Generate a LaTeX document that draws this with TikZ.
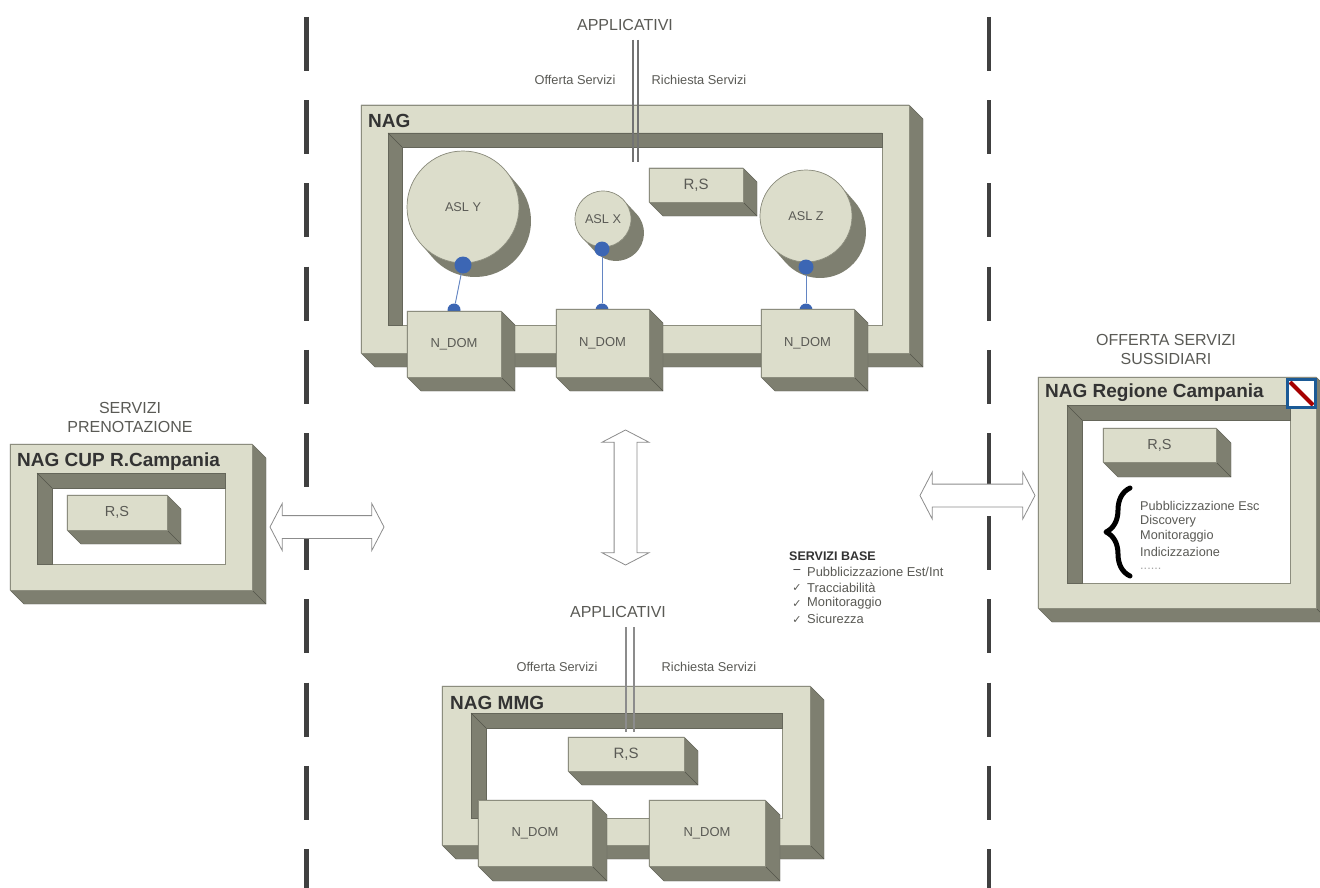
\documentclass[tikz,border=0pt]{standalone}
\usepackage{fontspec}
\setmainfont{Liberation Sans}
\newfontfamily\symfont{DejaVu Sans}
\usetikzlibrary{shapes.geometric,shapes.arrows,decorations.pathreplacing}
\definecolor{face}{HTML}{DCDDCB}
\definecolor{side}{HTML}{7E7F70}
\definecolor{edgec}{HTML}{8C8D7E}
\definecolor{txt}{HTML}{5A5A55}
\definecolor{dots}{HTML}{3C66B4}
\definecolor{flagblue}{HTML}{1B5A96}
\tikzset{
  solid3d/.style={draw=edgec,line width=.7pt,fill=face,rectangle,inner sep=0pt,outer sep=0pt,text=txt,font=\fontsize{13}{15}\selectfont},
  sidefill/.style={fill=side,draw=side!80!black,line width=.4pt},
  disc/.style={circle,draw=edgec,line width=.7pt,fill=face,inner sep=0pt,text=txt,font=\fontsize{12.7}{15}\selectfont},
  bluedot/.style={circle,fill=dots,inner sep=0pt},
  bluelink/.style={draw=dots!80!white,line width=.9pt},
  frametitle/.style={anchor=west,inner sep=0pt,text=black!80,font=\bfseries\fontsize{19}{21}\selectfont},
  captext/.style={align=center,inner sep=0pt,text=txt,font=\fontsize{16}{19}\selectfont},
  smalltext/.style={inner sep=0pt,text=txt,font=\fontsize{12.8}{14}\selectfont},
  listitem/.style={anchor=west,inner sep=0pt,text=txt,font=\fontsize{12.7}{14}\selectfont},
  basetext/.style={anchor=west,inner sep=0pt,text=txt,font=\fontsize{12.9}{14}\selectfont},
  marktext/.style={anchor=center,inner sep=0pt,text=txt,font=\symfont\fontsize{11}{12}\selectfont},
  sepbar/.style={draw=black!75,line width=4.5pt,dash pattern=on 54pt off 29.2pt},
  busline/.style={draw=black!55,line width=1.3pt},
  bigarrow/.style={double arrow,draw=black!45,fill=white,line width=.8pt,inner sep=11pt,minimum width=46pt,double arrow head extend=12pt,double arrow tip angle=125},
}
% name, x1, y1, x2, y2, depth, text
\newcommand{\solidbox}[7]{%
  \filldraw[sidefill] (#2,#3) -- (#4,#3) -- ({#4+#6},{#3+#6}) -- ({#4+#6},{#5+#6}) -- ({#2+#6},{#5+#6}) -- (#2,#5) -- cycle;
  \draw[edgec!60!black,line width=.4pt] (#4,#5) -- ({#4+#6},{#5+#6});
  \node[solid3d,minimum width={#4-#2},minimum height={#5-#3}] (#1) at ({(#2+#4)/2},{(#3+#5)/2}) {#7};
}
% name, x1, y1, x2, y2, depth
\newcommand{\holebox}[6]{%
  \node[rectangle,fill=white,draw=edgec,line width=.7pt,inner sep=0pt,minimum width={#4-#2},minimum height={#5-#3}] (#1) at ({(#2+#4)/2},{(#3+#5)/2}) {};
  \filldraw[sidefill] (#2,#3) -- (#4,#3) -- (#4,{#3+#6}) -- ({#2+#6},{#3+#6}) -- ({#2+#6},#5) -- (#2,#5) -- cycle;
  \draw[edgec!60!black,line width=.4pt] (#2,#3) -- ({#2+#6},{#3+#6});
}
% name, cx, cy, r, dx, dy, text
\newcommand{\bubble}[7]{%
  \draw[side,line width={2*#4},line cap=round] (#2,#3) -- ({#2+#5},{#3+#6});
  \node[disc,minimum size={2*#4}] (#1) at (#2,#3) {#7};
}
\begin{document}
\begin{tikzpicture}[x=1pt,y=-1pt]
\useasboundingbox (0,0) rectangle (1320,888);
\fill[white] (0,0) rectangle (1320,888);

% dashed separators
\coordinate (lt) at (306.5,17); \coordinate (lb) at (306.5,888);
\coordinate (rt) at (989,17); \coordinate (rb) at (989,888);
\draw[sepbar] (lt) -- (lb);
\draw[sepbar] (rt) -- (rb);

% NAG
\solidbox{nag}{361}{105}{909}{353}{14}{}
\holebox{naghole}{388}{133}{882}{325}{14}
\node[frametitle] (nagt) at (368,121) {NAG};
\node[captext] (app1) at (625,25) {APPLICATIVI};
\coordinate (app1a) at (633,40); \coordinate (app1b) at (633,162);
\coordinate (app1c) at (638,40); \coordinate (app1d) at (638,162);
\draw[busline] (app1a) -- (app1b);
\draw[busline] (app1c) -- (app1d);
\node[smalltext] (off1) at (575,80) {Offerta Servizi};
\node[smalltext] (ric1) at (699,80) {Richiesta Servizi};
\solidbox{rs1}{649}{168}{743}{202}{14}{\fontsize{15}{16}\selectfont R,S}
\bubble{aslz}{806}{216}{46}{14}{16}{ASL Z}
\bubble{asly}{463}{207}{56}{12}{14}{ASL Y}
\bubble{aslx}{603}{219}{28}{13}{14}{ASL X}
\node[bluedot,minimum size=17pt] (dy1) at (463,265) {};
\node[bluedot,minimum size=15pt] (dx1) at (602,249) {};
\node[bluedot,minimum size=15pt] (dz1) at (806,267) {};
\node[bluedot,minimum size=13pt] (dy2) at (454,310) {};
\node[bluedot,minimum size=13pt] (dx2) at (602,310) {};
\node[bluedot,minimum size=13pt] (dz2) at (806,310) {};
\draw[bluelink] (dy1) -- (dy2);
\draw[bluelink] (dx1) -- (dx2);
\draw[bluelink] (dz1) -- (dz2);
\solidbox{nd1}{407}{311}{501}{377}{14}{N\_DOM}
\solidbox{nd2}{556}{309}{649}{377}{14}{N\_DOM}
\solidbox{nd3}{761}{309}{854}{377}{14}{N\_DOM}

% big arrows
\node[bigarrow,minimum height=114pt] (arrl) at (327,527) {};
\node[bigarrow,minimum height=135pt,rotate=90] (arrc) at (625.5,497.5) {};
\node[bigarrow,minimum height=115pt] (arrr) at (977.5,495.5) {};

% NAG CUP
\node[captext] (capl) at (130,417) {SERVIZI\\PRENOTAZIONE};
\solidbox{cup}{10}{444}{252}{590}{14}{}
\holebox{cuphole}{37}{473}{225}{564}{15}
\node[frametitle] (cupt) at (17,462) {NAG CUP R.Campania};
\solidbox{rs2}{67}{495}{167}{530}{14}{\fontsize{14.5}{16}\selectfont R,S}

% NAG Regione
\node[captext] (capr) at (1166,349) {OFFERTA SERVIZI\\SUSSIDIARI};
\solidbox{reg}{1038}{377}{1316}{608}{14}{}
\holebox{reghole}{1067}{405}{1290}{583}{15}
\node[frametitle] (regt) at (1045,393) {NAG Regione Campania};
\node[rectangle,fill=white,inner sep=0pt,minimum size=28pt] (flag) at (1301.5,393.5) {};
\draw[red!65!black,line width=4pt] (1290,382) -- (1313,405);
\draw[draw=flagblue,line width=3.5pt] (flag.north west) rectangle (flag.south east);
\solidbox{rs3}{1103}{428}{1216}{462}{15}{\fontsize{14.5}{16}\selectfont R,S}
\coordinate (bra) at (1130,576); \coordinate (brb) at (1130,488);
\draw[black,line width=5pt,line join=round,line cap=round,decorate,decoration={brace,amplitude=24pt,aspect=.5}] (bra) -- (brb);
\node[listitem] (l1) at (1140,506) {Pubblicizzazione Esc};
\node[listitem] (l2) at (1140,521) {Discovery};
\node[listitem] (l3) at (1140,536) {Monitoraggio};
\node[listitem] (l4) at (1140,552) {Indicizzazione};
\node[listitem,text=black!35] (l5) at (1140,569) {......};

% Servizi base
\node[anchor=west,inner sep=0pt,text=black!80,font=\bfseries\fontsize{12.5}{14}\selectfont] (sb) at (789,556) {SERVIZI BASE};
\node[marktext,text=black!75] (c1) at (797,572) {\char"2212};
\node[marktext] (c2) at (797,588) {✓};
\node[marktext] (c3) at (797,604) {✓};
\node[marktext] (c4) at (797,620) {✓};
\node[basetext] (b1) at (807,572) {Pubblicizzazione Est/Int};
\node[basetext] (b2) at (807,588) {Tracciabilità};
\node[basetext] (b3) at (807,603) {Monitoraggio};
\node[basetext] (b4) at (807,619) {Sicurezza};

% NAG MMG
\solidbox{mmg}{442}{686}{810}{845}{14}{}
\holebox{mmghole}{471}{713}{782}{818}{15}
\node[frametitle] (mmgt) at (450,703) {NAG MMG};
\node[captext] (app2) at (618,612) {APPLICATIVI};
\coordinate (app2a) at (626,627); \coordinate (app2b) at (626,732);
\coordinate (app2c) at (634,627); \coordinate (app2d) at (634,732);
\draw[busline,line width=1.8pt,draw=black!45] (app2a) -- (app2b);
\draw[busline,line width=1.8pt,draw=black!45] (app2c) -- (app2d);
\node[smalltext] (off2) at (557,667) {Offerta Servizi};
\node[smalltext] (ric2) at (709,667) {Richiesta Servizi};
\solidbox{rs4}{568}{737}{684}{771}{14}{\fontsize{15}{16}\selectfont R,S}
\solidbox{nd4}{478}{800}{592}{866}{15}{N\_DOM}
\solidbox{nd5}{649}{800}{765}{866}{15}{N\_DOM}
\end{tikzpicture}
\end{document}
